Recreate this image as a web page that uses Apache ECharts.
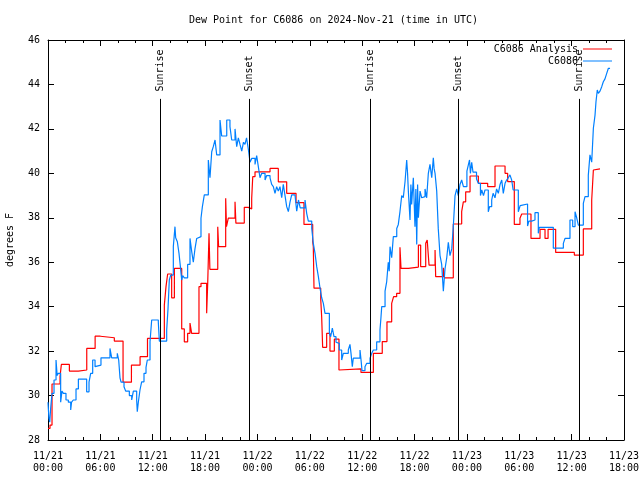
<!DOCTYPE html>
<html><head><meta charset="utf-8">
<script src="https://cdn.jsdelivr.net/npm/echarts@6/dist/echarts.min.js"></script>
<style>html,body{margin:0;padding:0;background:#fff}#c{width:640px;height:480px}</style>
</head><body><div id="c"></div>
<script>
// x values are hours since 2024-11-21 00:00 UTC
const xTickLabels = ["11/21\n00:00","11/21\n06:00","11/21\n12:00","11/21\n18:00","11/22\n00:00","11/22\n06:00","11/22\n12:00","11/22\n18:00","11/23\n00:00","11/23\n06:00","11/23\n12:00","11/23\n18:00"];
const yTickValues = [28,30,32,34,36,38,40,42,44,46];

const analysisHours = [0,0.23,0.46,1.38,1.53,2.45,3.48,4.44,5.4,6.0,7.6,8.6,9.56,10.55,11.4,13.33,13.52,13.71,14.17,14.48,15.32,15.62,16.0,16.27,16.46,17.3,17.53,18.18,18.3,18.45,18.55,19.45,19.55,20.36,20.45,20.66,21.43,21.53,22.49,22.95,23.34,23.46,23.72,25.44,26.39,27.35,28.42,29.33,30.33,30.4,30.48,31.25,31.36,31.47,31.93,32.31,32.81,33.34,33.5,35.86,37.28,38.3,38.84,39.38,39.6,39.95,40.33,40.45,41.3,42.44,42.7,43.28,43.45,43.66,44.35,44.42,45.3,45.42,46.44,47.4,47.59,47.86,48.36,49.31,50.38,51.22,52.37,52.67,53.43,54.08,54.28,55.34,56.38,56.95,57.3,58.17,60.31,61.34,62.3,62.49,62.68,63.25];
const analysisValues = [28.52,28.67,30.52,30.85,31.4,31.1,31.15,32.12,32.67,32.6,32.45,30.6,31.37,31.75,32.57,34.07,34.9,35.47,34.4,35.72,33.0,32.42,32.8,33.26,32.8,34.9,35.05,33.7,35.05,37.3,35.68,37.6,36.7,38.88,37.6,37.98,38.72,37.76,38.47,38.4,38.88,39.85,40.07,40.22,39.62,39.1,38.68,37.7,36.92,36.7,34.83,34.33,33.52,32.17,32.8,32.0,32.54,31.15,31.2,31.04,31.9,32.43,33.32,34.15,34.45,34.6,36.67,35.72,35.78,36.77,35.8,36.85,37.0,35.87,36.55,35.35,35.75,35.3,37.72,38.28,38.72,39.17,39.88,39.55,39.4,40.33,40.0,39.63,37.7,37.98,38.17,37.07,37.48,37.07,37.48,36.44,36.32,37.5,38.8,40.15,40.2,40.2];

const obsHours = [0,0.1,0.2,0.3,0.46,0.69,0.92,1.05,1.18,1.45,1.6,1.76,2.06,2.33,2.6,2.7,2.9,3.21,3.48,4.43,4.7,4.89,5.12,5.39,5.58,6.07,7.1,7.3,7.94,8.1,8.25,8.37,8.71,8.9,9.32,9.59,9.78,10.16,10.23,10.35,10.54,10.73,11.0,11.23,11.38,11.69,11.88,12.64,12.76,13.6,13.75,13.9,14.06,14.36,14.55,14.63,14.82,15.01,15.13,15.32,15.43,15.62,16.0,16.27,16.46,16.65,16.84,17.04,17.22,17.53,17.69,17.91,18.37,18.56,18.76,18.94,19.14,19.33,19.71,19.9,20.48,20.85,21.05,21.43,21.62,21.81,22.0,22.2,22.4,22.57,22.75,22.95,23.15,23.34,23.72,23.91,24.1,24.29,24.49,24.87,25.06,25.44,25.63,25.82,26.01,26.2,26.39,26.58,26.78,26.96,27.16,27.35,27.54,27.73,27.92,28.3,28.5,28.7,28.9,29.45,29.64,29.83,30.22,30.4,30.6,30.79,30.98,31.17,31.36,31.55,31.74,32.24,32.39,32.58,32.77,33.0,33.15,33.38,33.65,33.84,34.41,34.6,34.72,34.87,34.98,35.75,35.87,35.98,36.32,36.52,36.9,37.09,37.28,37.66,38.04,38.15,38.24,38.62,38.81,38.99,39.1,39.19,39.38,39.57,39.96,40.14,40.33,40.53,40.71,40.91,41.1,41.2,41.29,41.48,41.58,41.67,41.86,42.05,42.15,42.25,42.35,42.44,42.63,42.82,43.0,43.2,43.39,43.58,43.77,43.97,44.15,44.25,44.35,44.54,44.72,44.92,45.11,45.3,45.49,45.69,45.87,46.06,46.26,46.44,46.64,46.83,47.01,47.21,47.4,47.6,48.0,48.16,48.3,48.4,48.55,48.7,49.1,49.31,49.55,49.7,49.9,50.07,50.45,50.6,50.84,51.0,51.22,51.4,51.6,51.8,51.99,52.17,52.37,52.55,52.74,52.93,53.13,53.3,53.89,54.1,54.28,54.95,55.1,55.42,55.8,56.18,56.3,57.9,59.05,59.24,59.81,60.12,60.39,60.58,60.77,61.34,61.53,61.91,62.1,62.3,62.49,62.68,62.79,62.94,63.06,63.25,63.45,63.63,63.82,64.02,64.2,64.4];
const obsValues = [29.7,29.0,28.8,29.4,30.1,30.7,31.6,30.9,31.0,29.7,30.2,30.1,29.8,29.7,29.35,29.7,29.8,30.3,30.74,30.17,30.6,31.0,31.6,31.3,31.37,31.7,32.12,31.7,31.9,31.6,30.8,30.6,30.4,30.2,30.0,29.8,30.2,29.8,29.27,29.7,30.25,30.62,31.0,31.27,31.6,32.42,33.4,33.3,32.45,32.95,33.9,35.2,35.42,36.7,37.6,37.1,36.92,36.4,35.95,35.2,35.4,35.3,35.9,37.07,36.5,36.0,36.6,37.07,37.15,37.98,38.5,39.03,40.6,39.8,40.97,41.2,41.5,40.83,42.4,41.68,42.4,42.1,41.5,42.0,41.2,41.6,41.3,41.0,41.4,41.3,41.6,41.1,40.5,40.67,40.4,40.8,40.3,39.8,40.0,39.7,39.9,39.8,39.5,39.4,39.1,39.4,39.2,39.4,38.9,39.5,39.0,38.5,38.28,38.7,39.03,39.1,38.3,38.8,38.45,38.8,38.2,37.85,37.52,36.85,36.4,35.8,35.35,34.83,34.4,34.15,33.7,32.8,32.65,33.03,32.65,32.4,32.35,32.05,31.6,31.9,32.05,32.3,31.9,31.3,31.68,32.05,31.6,31.12,31.3,31.45,31.68,31.9,32.05,32.42,32.95,33.5,34.0,34.7,35.13,36.0,35.6,36.7,36.2,37.15,37.52,37.7,38.28,39.0,38.9,39.62,40.6,40.0,39.2,37.9,39.5,38.6,39.8,37.6,39.3,36.8,39.5,38.0,39.2,38.9,38.95,39.3,38.9,40.0,40.4,39.8,40.7,40.2,40.0,39.2,37.5,36.3,35.9,34.7,35.7,36.2,36.9,36.3,36.6,37.6,39.0,39.3,39.0,39.5,39.7,39.4,40.1,40.37,40.6,40.0,40.5,40.05,39.74,39.55,39.0,39.25,39.0,39.25,38.27,38.5,38.8,39.1,38.9,39.3,39.1,39.5,39.7,39.1,39.55,39.7,39.8,39.93,39.7,39.25,38.27,38.55,38.62,37.63,37.85,37.9,38.23,37.3,37.57,36.63,36.85,37.07,37.9,37.6,38.27,38.0,37.67,38.65,38.95,39.92,40.83,40.5,42.03,42.62,43.22,43.75,43.6,43.7,43.9,44.12,44.25,44.5,44.72,44.72];

const sunEventHours = [12.83, 23.07, 36.93, 47.02, 60.88];
const sunEventNames = ["Sunrise","Sunset","Sunrise","Sunset","Sunrise"];

const FONT = "DejaVu Sans Mono";
const zip = (a, b) => a.map((h, i) => [h, b[i]]);

const sunLines = [];
sunEventHours.forEach((h, i) => {
  sunLines.push([
    {coord: [h, 28], lineStyle: {color: '#000', width: 1, type: 'solid'}, label: {show: false}},
    {coord: [h, 43.35], lineStyle: {color: '#000', width: 1, type: 'solid'}, label: {show: false}}
  ]);
  const name = sunEventNames[i];
  const lbl = {show: true, position: 'middle', formatter: name, color: '#000', fontFamily: FONT, fontSize: 10, distance: 0, verticalAlign: 'middle'};
  sunLines.push([
    {coord: [h, 43.66], lineStyle: {color: 'rgba(0,0,0,0)', width: 1}, label: lbl},
    {coord: [h, 43.66 + name.length * 0.277], lineStyle: {color: 'rgba(0,0,0,0)', width: 1}, label: lbl}
  ]);
});

const axisCommon = {
  axisLine: {show: true, onZero: false, lineStyle: {color: '#000', width: 1}},
  splitLine: {show: false},
};

const chart = echarts.init(document.getElementById('c'), null, {renderer: 'canvas'});
chart.setOption({
  animation: false,
  backgroundColor: '#fff',
  title: {
    text: 'Dew Point for C6086 on 2024-Nov-21 (time in UTC)',
    left: 184, top: 10,
    textStyle: {fontFamily: FONT, fontSize: 10, fontWeight: 'normal', color: '#000'}
  },
  legend: {
    orient: 'vertical', right: 28, top: 43, itemGap: 0, align: 'right', padding: 0,
    itemWidth: 29, itemHeight: 1,
    data: [{name: 'C6086 Analysis', icon: 'rect'}, {name: 'C6086', icon: 'rect'}],
    textStyle: {fontFamily: FONT, fontSize: 10, color: '#000', lineHeight: 12}
  },
  grid: {left: 48, right: 16, top: 40, bottom: 40, containLabel: false, outerBoundsMode: 'none'},
  xAxis: [
    Object.assign({
      type: 'value', min: 0, max: 66, interval: 6, position: 'bottom',
      axisTick: {show: true, inside: true, length: 6, lineStyle: {color: '#000'}},
      minorTick: {show: true, splitNumber: 3, length: 3, lineStyle: {color: '#000'}},
      axisLabel: {
        show: true, showMinLabel: true, showMaxLabel: true, margin: 10,
        fontFamily: FONT, fontSize: 10, color: '#000', lineHeight: 12,
        formatter: v => xTickLabels[Math.round(v / 6)]
      }
    }, axisCommon),
    Object.assign({
      type: 'value', min: 0, max: 66, interval: 6, position: 'top',
      axisTick: {show: true, inside: true, length: 6, lineStyle: {color: '#000'}},
      minorTick: {show: true, splitNumber: 3, length: 3, lineStyle: {color: '#000'}},
      axisLabel: {show: false}
    }, axisCommon)
  ],
  yAxis: [
    Object.assign({
      type: 'value', min: 28, max: 46, interval: 2, position: 'left',
      name: 'degrees F', nameLocation: 'middle', nameRotate: 90, nameGap: 33,
      nameTextStyle: {fontFamily: FONT, fontSize: 10, color: '#000'},
      axisTick: {show: true, inside: true, length: 6, lineStyle: {color: '#000'}},
      axisLabel: {
        show: true, margin: 8, fontFamily: FONT, fontSize: 10, color: '#000',
        formatter: v => yTickValues.includes(v) ? String(v) : ''
      }
    }, axisCommon),
    Object.assign({
      type: 'value', min: 28, max: 46, interval: 2, position: 'right',
      axisTick: {show: true, inside: true, length: 6, lineStyle: {color: '#000'}},
      axisLabel: {show: false}
    }, axisCommon)
  ],
  series: [
    {
      name: 'sun', type: 'line', data: [], xAxisIndex: 0, yAxisIndex: 0,
      markLine: {silent: true, symbol: ['none', 'none'], animation: false, data: sunLines}
    },
    {
      name: 'C6086 Analysis', type: 'line', step: 'end', showSymbol: false,
      xAxisIndex: 0, yAxisIndex: 0,
      itemStyle: {color: '#ff0000'},
      lineStyle: {color: '#ff0000', width: 1.2},
      data: zip(analysisHours, analysisValues)
    },
    {
      name: 'C6086', type: 'line', step: 'end', showSymbol: false,
      xAxisIndex: 0, yAxisIndex: 0,
      itemStyle: {color: '#0080ff'},
      lineStyle: {color: '#0080ff', width: 1.2},
      data: zip(obsHours, obsValues)
    }
  ]
});
</script>
</body></html>
